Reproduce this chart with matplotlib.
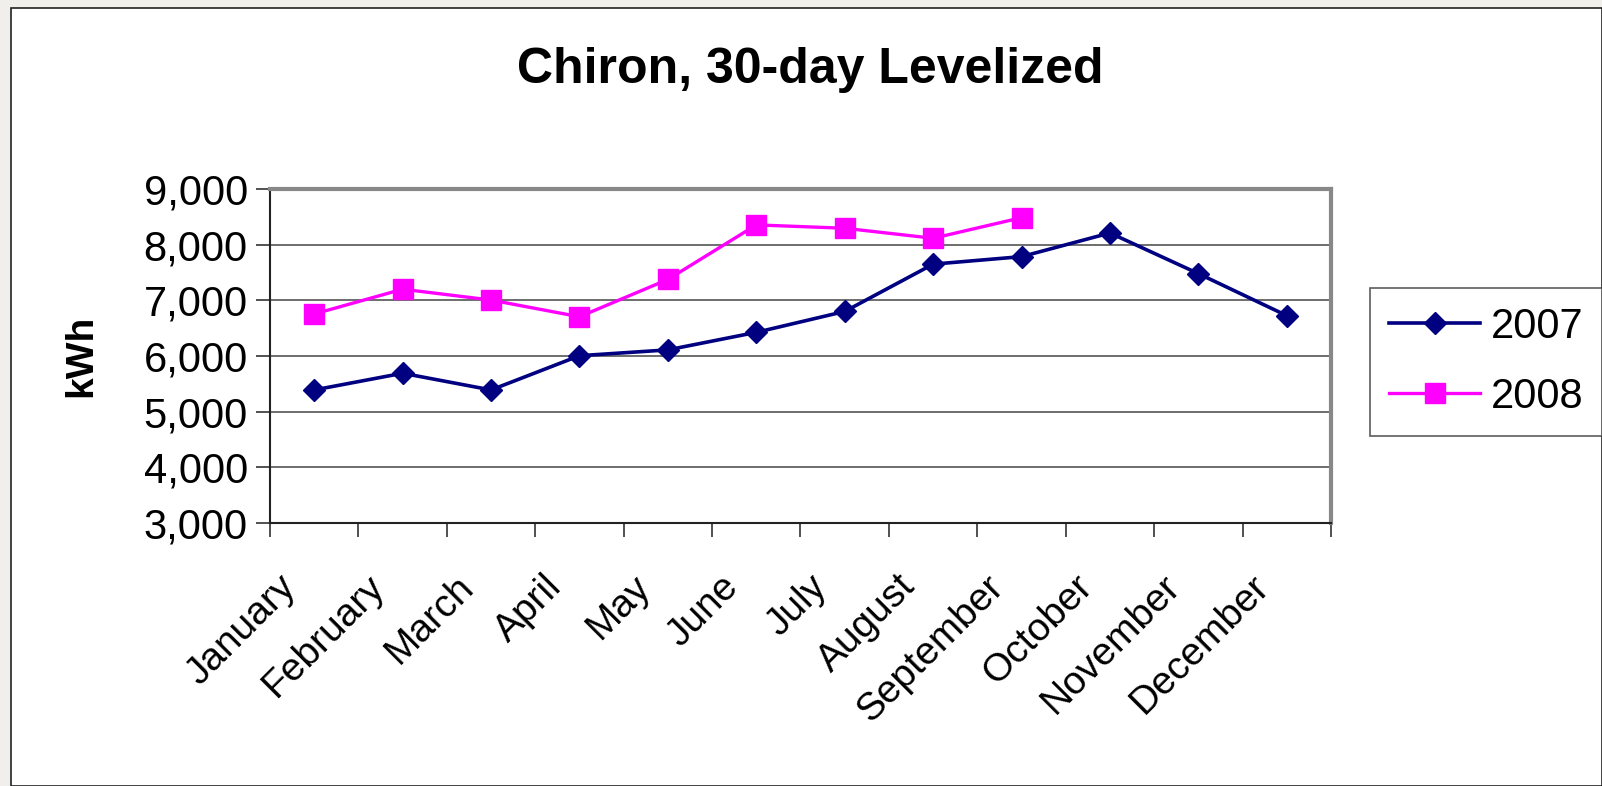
import matplotlib.pyplot as plt
import matplotlib.transforms as mtransforms
from matplotlib.patches import Rectangle

months = ["January", "February", "March", "April", "May", "June", "July",
          "August", "September", "October", "November", "December"]
kwh_2007 = [5390, 5690, 5390, 6005, 6110, 6425, 6800, 7650, 7785, 8210, 7480, 6725]
kwh_2008 = [6755, 7200, 7005, 6705, 7375, 8355, 8295, 8115, 8485]
yticks = [3000, 4000, 5000, 6000, 7000, 8000, 9000]

plt.rcParams['font.family'] = ['Liberation Sans', 'DejaVu Sans']

fig = plt.figure(figsize=(16.02, 7.86), dpi=100)
fig.patch.set_facecolor('#f0efec')
# white panel with a dark frame, like the source slide
fig.patches.append(Rectangle((11/1602, 0), 1 - 11/1602, 1 - 8/786, transform=fig.transFigure,
                             facecolor='white', edgecolor='#222222', linewidth=1.2, zorder=-5))

ax = fig.add_axes([270/1602, 1 - 523/786, 1061/1602, 334/786])
ax.set_zorder(2)
x = list(range(len(months)))
ax.plot(x, kwh_2007, color='#000080', linewidth=2.6, marker='D', markersize=11, label='2007')
ax.plot(x[:len(kwh_2008)], kwh_2008, color='#ff00ff', linewidth=2.4, marker='s', markersize=14,
        label='2008')

ax.set_xlim(-0.5, 11.5)
ax.set_ylim(3000, 9000)
ax.set_yticks(yticks)
ax.set_yticklabels([f"{v:,}" for v in yticks], fontsize=30)
ax.yaxis.grid(True, color='#555555', linewidth=1.2)
ax.set_axisbelow(True)

ax.set_xticks([i + 0.5 for i in range(-1, 12)])
ax.set_xticklabels([])
ax.tick_params(axis='x', length=10, width=1.2, color='#333333')
ax.tick_params(axis='y', length=10, width=1.2, color='#333333', pad=6)
ax.set_xticks(x, minor=True)
ax.set_xticklabels(months, minor=True, rotation=45, ha='right', rotation_mode='anchor', fontsize=28)
ax.tick_params(axis='x', which='minor', length=0, pad=14)
shift = mtransforms.ScaledTranslation(-36/100, -26/100, fig.dpi_scale_trans)
for lab in ax.get_xticklabels(minor=True):
    lab.set_transform(lab.get_transform() + shift)

for s in ['left', 'bottom']:
    ax.spines[s].set_color('#222222')
    ax.spines[s].set_linewidth(1.5)
for s in ['top', 'right']:
    ax.spines[s].set_color('#888888')
    ax.spines[s].set_linewidth(3)

ax.set_ylabel('kWh', fontsize=28, fontweight='bold')
ax.yaxis.set_label_coords((99 - 270) / 1061, 0.5)
fig.text(810/1602, 1 - 70/786, 'Chiron, 30-day Levelized', fontsize=36, fontweight='bold',
         ha='center', va='center')

leg = fig.legend(loc='center left', bbox_to_anchor=(1370/1602, 1 - 362/786), fontsize=30,
                 frameon=True, fancybox=False, edgecolor='#333333', handlelength=2.2,
                 borderpad=0.45, labelspacing=0.72, handletextpad=0.25, borderaxespad=0)
leg.get_frame().set_linewidth(1.2)

fig.savefig('out.png', dpi=100)
